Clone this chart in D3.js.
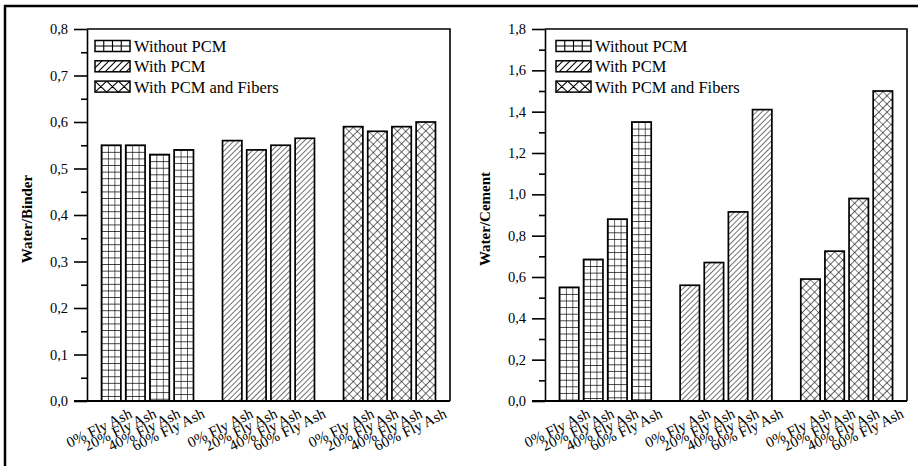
<!DOCTYPE html>
<meta charset="utf-8">
<script src="https://d3js.org/d3.v7.min.js"></script>
<style>
  body { margin: 0; background: #fff; }
  svg text { font-family: "Liberation Serif", "Tinos", "Times New Roman", Times, "DejaVu Serif", serif !important; fill: #000; }
</style>
<div id="chart"></div>
<script>

  // categories and series
  var flyAsh = ["0% Fly Ash", "20% Fly Ash", "40% Fly Ash", "60% Fly Ash"];
  var series = ["Without PCM", "With PCM", "With PCM and Fibers"];

  // Water/Binder values
  var wbWithout = [0.55, 0.55, 0.53, 0.54];
  var wbWithPcm = [0.56, 0.54, 0.55, 0.565];
  var wbFibers  = [0.59, 0.58, 0.59, 0.60];

  // Water/Cement values
  var wcWithout = [0.55, 0.685, 0.88, 1.35];
  var wcWithPcm = [0.56, 0.67, 0.915, 1.41];
  var wcFibers  = [0.59, 0.725, 0.98, 1.50];

  // tick values
  var wbTicks = [0, 0.1, 0.2, 0.3, 0.4, 0.5, 0.6, 0.7, 0.8];
  var wcTicks = [0, 0.2, 0.4, 0.6, 0.8, 1.0, 1.2, 1.4, 1.6, 1.8];

  var W = 918, H = 466;
  var svg = d3.select("#chart").append("svg")
    .attr("width", W).attr("height", H)
    .attr("font-family", "Liberation Serif");

  // outer frame (left and top edges)
  svg.append("line").attr("x1", 5).attr("x2", 5).attr("y1", 5).attr("y2", H)
    .attr("stroke", "#000").attr("stroke-width", 2.5);
  svg.append("line").attr("x1", 4).attr("x2", W).attr("y1", 6).attr("y2", 6)
    .attr("stroke", "#000").attr("stroke-width", 2.5);

  var defs = svg.append("defs");
  var barFrac = 0.8;
  var slotW = (450 - 87) / 15;
  var barW = slotW * barFrac;

  // bar fill patterns
  var grid = defs.append("pattern").attr("id", "grid")
    .attr("patternUnits", "userSpaceOnUse")
    .attr("width", barW / 3).attr("height", 6.6);
  grid.append("path").attr("d", "M0,0V6.6M0,0H" + (barW / 3))
    .attr("stroke", "#000").attr("stroke-width", 1.2);

  var hatch = defs.append("pattern").attr("id", "hatch")
    .attr("patternUnits", "userSpaceOnUse")
    .attr("width", 3.9).attr("height", 3.9)
    .attr("patternTransform", "rotate(45)");
  hatch.append("path").attr("d", "M0,0V3.9")
    .attr("stroke", "#000").attr("stroke-width", 1.1);

  var cross = defs.append("pattern").attr("id", "cross")
    .attr("patternUnits", "userSpaceOnUse")
    .attr("width", 5.8).attr("height", 5.8)
    .attr("patternTransform", "translate(" + (barW / 2) + ",0) rotate(45)");
  cross.append("path").attr("d", "M0,0V5.8M0,0H5.8")
    .attr("stroke", "#000").attr("stroke-width", 1.2);

  var fills = ["url(#grid)", "url(#hatch)", "url(#cross)"];

  function drawPanel(opt) {
    var g = svg.append("g");
    var x = d3.scaleLinear().domain([0, 15]).range([opt.x0, opt.x1]);
    var y = d3.scaleLinear().domain([0, opt.max]).range([opt.y1, opt.y0]);

    // bars
    var rows = [];
    opt.data.forEach(function (vals, s) {
      vals.forEach(function (v, i) {
        rows.push({ s: s, i: i, v: v, slot: s * 5 + i + 1 });
      });
    });
    var bars = g.selectAll(".bar").data(rows).enter().append("g")
      .attr("transform", function (d) {
        return "translate(" + (x(d.slot) - barW / 2) + "," + y(d.v) + ")";
      });
    bars.append("rect")
      .attr("width", barW)
      .attr("height", function (d) { return y(0) - y(d.v); })
      .attr("fill", "#fff");
    bars.append("rect")
      .attr("width", barW)
      .attr("height", function (d) { return y(0) - y(d.v); })
      .attr("fill", function (d) { return fills[d.s]; })
      .attr("stroke", "#000").attr("stroke-width", 1.7);

    // frame: top and right
    g.append("path")
      .attr("d", "M" + opt.x0 + "," + opt.y0 + "H" + opt.x1 + "V" + opt.y1)
      .attr("fill", "none").attr("stroke", "#000").attr("stroke-width", 1.6);

    // minor ticks
    g.append("g").attr("transform", "translate(" + opt.x0 + ",0)")
      .call(d3.axisLeft(y).tickValues(opt.minor).tickSize(6).tickFormat(""))
      .call(function (a) { a.select(".domain").remove(); })
      .selectAll("line").attr("stroke-width", 1.6);

    // major ticks and labels
    var ay = g.append("g").attr("transform", "translate(" + opt.x0 + ",0)")
      .call(d3.axisLeft(y).tickValues(opt.ticks).tickSize(13).tickSizeOuter(0)
        .tickPadding(6)
        .tickFormat(function (d) { return d3.format(".1f")(d).replace(".", ","); }));
    ay.attr("font-family", null).attr("font-size", null);
    ay.select(".domain").attr("stroke-width", 1.6);
    ay.selectAll("line").attr("stroke-width", 1.6);
    ay.selectAll("text").style("font-size", "14.5px");

    // bottom axis line
    g.append("line").attr("x1", opt.x0 - 13).attr("x2", opt.x1)
      .attr("y1", opt.y1).attr("y2", opt.y1)
      .attr("stroke", "#000").attr("stroke-width", 2);

    // category labels
    g.selectAll(".xl").data(rows).enter().append("text")
      .attr("text-anchor", "end")
      .attr("transform", function (d) {
        return "translate(" + (x(d.slot) + 22) + "," + (opt.y1 + 16) + ") rotate(-26)";
      })
      .style("font-size", "15px")
      .text(function (d) { return flyAsh[d.i]; });

    // y axis title
    g.append("text")
      .attr("transform", "translate(" + opt.titleX + "," + ((opt.y0 + opt.y1) / 2 + 4) + ") rotate(-90)")
      .attr("text-anchor", "middle")
      .style("font-size", "15px").style("font-weight", "bold")
      .text(opt.title);

    // legend
    var lx = opt.x0 + opt.legendDx;
    var leg = g.selectAll(".leg").data(series).enter().append("g")
      .attr("transform", function (d, i) { return "translate(" + lx + "," + (40.5 + i * 20.3) + ")"; });
    var sw = 35, sh = 11;
    leg.each(function (d, i) {
      var s = d3.select(this);
      var p = "";
      if (i === 0) {
        for (var k = 1; k < 4; k++) p += "M" + (k * sw / 4) + ",0V" + sh;
        p += "M0," + (sh / 2) + "H" + sw;
      } else if (i === 1) {
        for (var k = 0; k < 6; k++) {
          var xa = k * 7 - 4;
          p += "M" + Math.max(xa, 0) + "," + (xa < 0 ? sh + xa * sh / 11 : sh) +
               "L" + Math.min(xa + 11, sw) + "," + (xa + 11 > sw ? (xa + 11 - sw) * sh / 11 : 0);
        }
      } else {
        var cw = sw / 3;
        for (var k = 0; k < 3; k++) {
          p += "M" + (k * cw) + ",0L" + ((k + 1) * cw) + "," + sh;
          p += "M" + (k * cw) + "," + sh + "L" + ((k + 1) * cw) + ",0";
        }
      }
      s.append("rect").attr("width", sw).attr("height", sh)
        .attr("fill", "#fff").attr("stroke", "#000").attr("stroke-width", 1.5);
      s.append("path").attr("d", p).attr("stroke", "#000").attr("stroke-width", 1.1).attr("fill", "none");
      s.append("text").attr("x", sw + 4).attr("y", sh + 0.5)
        .style("font-size", "16.5px").text(d);
    });
  }

  drawPanel({
    x0: 87, x1: 450, y0: 29, y1: 401, max: 0.8,
    ticks: wbTicks, minor: d3.range(0.05, 0.8, 0.1),
    data: [wbWithout, wbWithPcm, wbFibers],
    title: "Water/Binder", titleX: 32, legendDx: 8
  });

  drawPanel({
    x0: 545, x1: 907, y0: 29, y1: 401, max: 1.8,
    ticks: wcTicks, minor: d3.range(0.1, 1.8, 0.2),
    data: [wcWithout, wcWithPcm, wcFibers],
    title: "Water/Cement", titleX: 490, legendDx: 11
  });

</script>
